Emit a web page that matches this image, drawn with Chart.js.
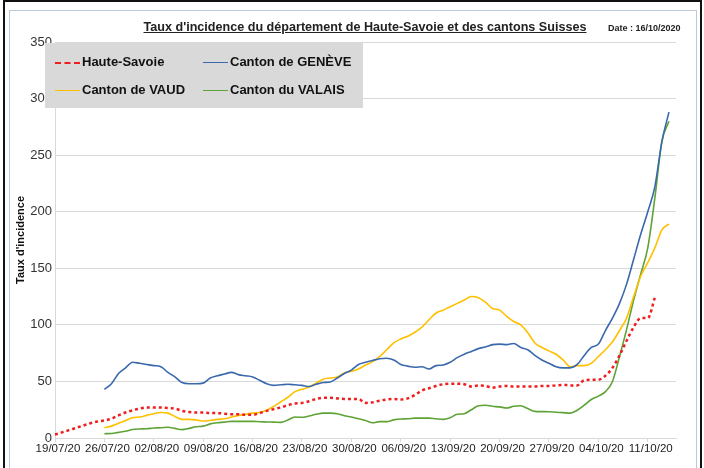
<!DOCTYPE html>
<html>
<head>
<meta charset="utf-8">
<script src="https://cdn.jsdelivr.net/npm/chart.js@4.4.0/dist/chart.umd.min.js"></script>
<style>
  body { margin: 0; background: #fff; font-family: 'Liberation Sans', Arial, sans-serif; }
  #wrap { position: relative; width: 704px; height: 468px; overflow: hidden; background: #fff; }
  #chart { position: absolute; left: 0; top: 0; }
  .frame { position: absolute; }
  #title { position: absolute; left: 115px; width: 500px; top: 20px; text-align: center; white-space: nowrap;
           font-size: 12.6px; font-weight: bold; color: #222; text-decoration: underline; }
  #date { position: absolute; left: 608px; top: 23px; font-size: 9px; font-weight: bold; color: #222; white-space: nowrap; }
  #legend { position: absolute; left: 45px; top: 43px; width: 318px; height: 65px; background: #d9d9d9; }
  .item { position: absolute; font-size: 13px; font-weight: bold; color: #111; white-space: nowrap; line-height: 16px; }
  .sample { position: absolute; width: 25px; height: 0; }
</style>
</head>
<body>
<div id="wrap">
  <canvas id="chart" width="704" height="468"></canvas>
  <div class="frame" style="left:3px;top:0;width:2px;height:468px;background:#111"></div>
  <div class="frame" style="left:3px;top:0;width:699px;height:2px;background:#111"></div>
  <div class="frame" style="left:700px;top:0;width:2px;height:468px;background:#111"></div>
  <div class="frame" style="left:9px;top:10px;width:688px;height:470px;border:1px solid #b8c9dc;box-sizing:border-box"></div>
  <div id="title">Taux d'incidence du département de Haute-Savoie et des cantons Suisses</div>
  <div id="date">Date : 16/10/2020</div>
  <div id="legend"></div>
</div>
<script>
// dates (one per day)
var dates = [
  '19/07/20','20/07/20','21/07/20','22/07/20','23/07/20','24/07/20','25/07/20','26/07/20','27/07/20','28/07/20',
  '29/07/20','30/07/20','31/07/20','01/08/20','02/08/20','03/08/20','04/08/20','05/08/20','06/08/20','07/08/20',
  '08/08/20','09/08/20','10/08/20','11/08/20','12/08/20','13/08/20','14/08/20','15/08/20','16/08/20','17/08/20',
  '18/08/20','19/08/20','20/08/20','21/08/20','22/08/20','23/08/20','24/08/20','25/08/20','26/08/20','27/08/20',
  '28/08/20','29/08/20','30/08/20','31/08/20','01/09/20','02/09/20','03/09/20','04/09/20','05/09/20','06/09/20',
  '07/09/20','08/09/20','09/09/20','10/09/20','11/09/20','12/09/20','13/09/20','14/09/20','15/09/20','16/09/20',
  '17/09/20','18/09/20','19/09/20','20/09/20','21/09/20','22/09/20','23/09/20','24/09/20','25/09/20','26/09/20',
  '27/09/20','28/09/20','29/09/20','30/09/20','01/10/20','02/10/20','03/10/20','04/10/20','05/10/20','06/10/20',
  '07/10/20','08/10/20','09/10/20','10/10/20','11/10/20','12/10/20','13/10/20','14/10/20','15/10/20'
];

var hauteSavoie = [3,5,7,9,11,13,14.5,15.5,17,20,
  22.5,24.5,26,27,27,27,26.5,26,24,23,
  22.5,22.5,22,22,21.5,21,21,20.5,20.5,22,
  24,25.5,27,29,30.5,31,32.5,34.5,35.5,35.5,
  35,34.5,34.5,34.5,31,31.5,33,34,34.5,34,
  35,38,42,44,46,47.5,48,48,47.5,45.5,
  46.5,46,44.5,45.5,46,45.5,45.5,45.5,45.5,46,
  46,46.5,47,46.5,46.5,51,51.5,51.5,55,62,
  73,86,98,106,106,124];

var geneve = [null,null,null,null,null,null,null,
  43,48,57,62,67,66,65,64,63,58,
  54,49,48,48,48.5,53,55,56.5,58,56,
  55,54,51,48,46.5,47,47.5,47,46.5,45.5,
  47.5,49,49.5,53,57,60,65,67,68.5,70,
  70.5,69,65,63.5,62.5,63,61,64,64.5,67,
  71,74,76.5,79,80.5,82.5,83,82.5,83.5,80,
  78,73,69,66,63,62,62,65,73,80,
  83,95,106,119,136,158,180,200,222,262,288];

var vaud = [null,null,null,null,null,null,null,
  9,10.5,13,15.5,18,18.5,20,21.5,22.5,22,
  19,16.5,16.5,16,15,15.5,16.5,17,18.5,20,
  21,22,22.5,24.5,28,32,36,41,43,45,
  48.5,52,53,54,57.5,59,61,64.5,67.5,72,
  78,84,87.5,90,93.5,98,104.5,110.5,113,116,
  119,122,125,124,120,114.5,113,107.5,103,100,
  93,84,80,77,74,69,63,64,64,66,
  72,78,85,95,106,125,143,155,168,184,189];

var valais = [null,null,null,null,null,null,null,
  3.8,4,5,6,7.5,8,8.2,8.8,9,9.5,
  8.5,7.4,8.5,10,10.5,12.5,13.5,14,14.7,14.7,
  14.7,14.7,14.4,14.2,14,13.8,16,18.5,18.3,19.5,
  21,22,22,21.5,19.7,18.5,17,15.5,13.5,14.5,
  14.5,16,16.8,17,17.6,17.6,17.6,17,16.5,18,
  21,21.5,25,28.5,29,28,27.5,26.5,28,28.5,
  26,23.5,23.3,23.2,22.8,22.4,22,24.5,29,34,
  37,41,50,72,96,122,145,168,212,262,280];

var yTicks = [0,50,100,150,200,250,300,350];

var seriesNames = ['Haute-Savoie','Canton de GENÈVE','Canton de VAUD','Canton du VALAIS'];
var seriesColors = ['#f01e1e','#3a68ad','#ffc000','#5ea336'];

// legend drawn as html over the plot, like the excel one
var legendPos = [[55,54],[203,54],[55,82],[203,82]];
var legendEl = document.getElementById('legend');
seriesNames.forEach(function(name, i) {
  var s = document.createElement('div');
  s.className = 'sample';
  s.style.left = (legendPos[i][0] - 45) + 'px';
  s.style.top = (legendPos[i][1] - 43 + 8) + 'px';
  s.style.borderTop = i === 0 ? '2px dashed ' + seriesColors[i] : '1.5px solid ' + seriesColors[i];
  legendEl.appendChild(s);
  var t = document.createElement('div');
  t.className = 'item';
  t.textContent = name;
  t.style.left = (legendPos[i][0] - 45 + 27) + 'px';
  t.style.top = (legendPos[i][1] - 43) + 'px';
  legendEl.appendChild(t);
});

var ctx = document.getElementById('chart').getContext('2d');
var chart = new Chart(ctx, {
  type: 'line',
  data: {
    labels: dates,
    datasets: [
      { label: seriesNames[0], data: hauteSavoie, borderColor: seriesColors[0], borderWidth: 2.5, borderDash: [3, 3] },
      { label: seriesNames[1], data: geneve, borderColor: seriesColors[1], borderWidth: 1.6 },
      { label: seriesNames[2], data: vaud, borderColor: seriesColors[2], borderWidth: 1.6 },
      { label: seriesNames[3], data: valais, borderColor: seriesColors[3], borderWidth: 1.6 }
    ]
  },
  options: {
    responsive: false,
    animation: false,
    elements: {
      point: { radius: 0 },
      line: { cubicInterpolationMode: 'monotone', fill: false }
    },
    layout: { padding: { left: 10, right: 28, top: 42, bottom: 0 } },
    plugins: {
      legend: { display: false },
      tooltip: { enabled: false }
    },
    scales: {
      x: {
        offset: false,
        grid: { display: true, drawOnChartArea: false, drawTicks: true, tickLength: 4, color: '#d9d9d9' },
        border: { color: '#d9d9d9' },
        ticks: {
          autoSkip: false,
          maxRotation: 0,
          minRotation: 0,
          padding: 0,
          labelOffset: 3,
          color: '#222',
          font: { family: "'Liberation Sans', Arial", size: 11.5 },
          callback: function(v, i) { return i % 7 === 0 ? dates[i] : null; }
        },
        afterFit: function(s) { s.height = 30; }
      },
      y: {
        min: 0,
        max: 350,
        afterBuildTicks: function(s) { s.ticks = yTicks.map(function(v) { return { value: v }; }); },
        grid: { color: '#d9d9d9', drawTicks: false },
        border: { color: '#d9d9d9' },
        ticks: {
          padding: 3,
          color: '#333',
          font: { family: "'Liberation Sans', Arial", size: 13 }
        },
        title: {
          display: true,
          text: "Taux d'incidence",
          color: '#111',
          font: { family: "'Liberation Sans', Arial", size: 11, weight: 'bold' },
          padding: { top: 4, bottom: 0 }
        },
        afterFit: function(s) { s.width = 45; }
      }
    }
  }
});
</script>
</body>
</html>
